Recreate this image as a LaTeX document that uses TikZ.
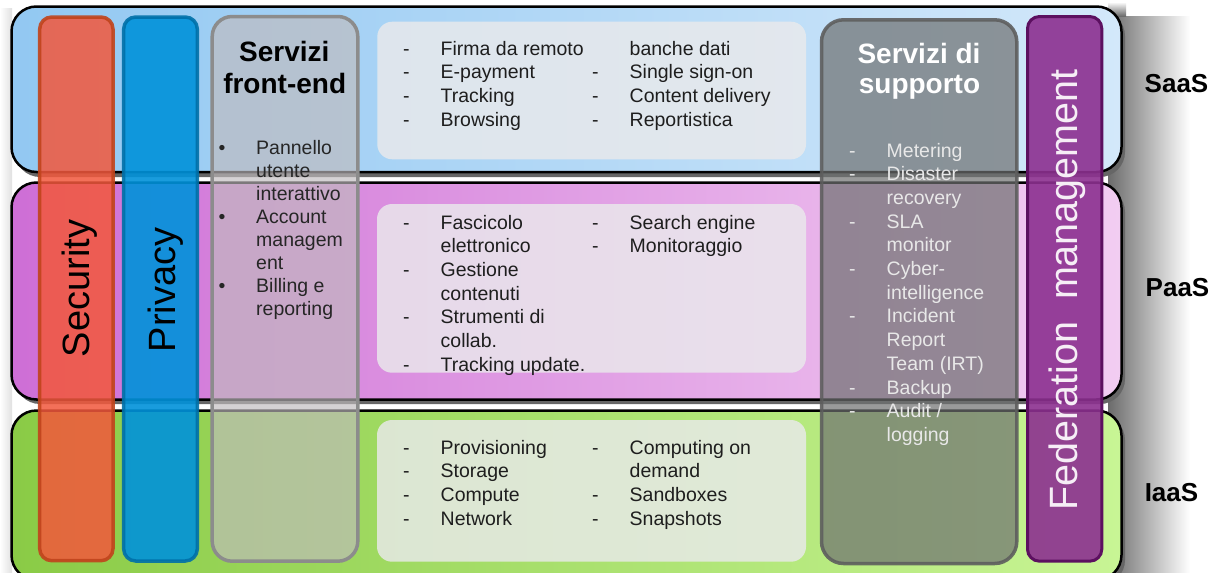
\documentclass[tikz,border=0pt]{standalone}
\usepackage{fontspec}
\setmainfont{Liberation Sans}
\usetikzlibrary{calc}
\definecolor{saasL}{HTML}{92C8F2}
\definecolor{saasR}{HTML}{D3E8FA}
\definecolor{paasL}{HTML}{CE6ED6}
\definecolor{paasR}{HTML}{F2CDF2}
\definecolor{iaasL}{HTML}{8ACB46}
\definecolor{iaasR}{HTML}{C8F595}
\definecolor{secF}{HTML}{F2583C}
\definecolor{secD}{HTML}{C0441C}
\definecolor{priF}{HTML}{0092DA}
\definecolor{priD}{HTML}{0070A8}
\definecolor{feF}{HTML}{C0BBBD}
\definecolor{feD}{HTML}{8C8C8C}
\definecolor{ctrF}{HTML}{EAEAEC}
\definecolor{supF}{HTML}{6E7070}
\definecolor{supD}{HTML}{5E5E5E}
\definecolor{fedF}{HTML}{8C3090}
\definecolor{fedD}{HTML}{5C1060}
\definecolor{txt}{HTML}{1E1E1E}
\definecolor{suptxt}{HTML}{E8E8E8}
\newcommand\dsh{\makebox[37.5pt][l]{-}}
\newcommand\nds{\hspace*{37.5pt}}
\newcommand\bul{\makebox[37.5pt][l]{\textbullet}}
\begin{document}
\begin{tikzpicture}[x=1pt,y=-1pt,
  band/.style={draw=black, line width=2.5pt, rectangle, rounded corners=25pt, inner sep=0pt, outer sep=0pt},
  bandshadow/.style={fill=black!60, rounded corners=25pt},
  col/.style={rectangle, inner sep=0pt, outer sep=0pt},
  ctr/.style={col, fill=ctrF, fill opacity=0.82, rounded corners=15pt},
  lst/.style={anchor=base west, inner sep=0pt, text=txt, font=\fontsize{19.5}{23.7}\selectfont},
  ttl/.style={anchor=base, inner sep=0pt, font=\fontsize{28}{28}\selectfont\bfseries},
  lbl/.style={anchor=base, inner sep=0pt, text=black, font=\fontsize{26}{26}\selectfont\bfseries},
  vert/.style={anchor=base, rotate=90, inner sep=0pt}]
\useasboundingbox (0,0) rectangle (1227,573);
\clip (0,0) rectangle (1227,573);
\fill[white] (0,0) rectangle (1227,573);
% soft shadows
\shade[left color=black!58, middle color=black!18, right color=white] (1108,16) rectangle (1190,573);
\shade[top color=white, bottom color=black!58] (1108,2) rectangle (1126,16);
\shade[left color=white, right color=black!12] (0,8) rectangle (12,573);
\fill[bandshadow] (15,11) rectangle (1125,177);
\fill[bandshadow] (15,187) rectangle (1125,404);
\fill[bandshadow] (15,415) rectangle (1125,585);
% bands
\node[band, left color=saasL, right color=saasR, minimum width=1110pt, minimum height=165.5pt] (saas) at (566.5,89.25) {};
\node[band, left color=paasL, right color=paasR, minimum width=1110pt, minimum height=217pt] (paas) at (566.5,291) {};
\node[band, left color=iaasL, right color=iaasR, minimum width=1110pt, minimum height=169.5pt] (iaas) at (566.5,495.25) {};
% vertical columns
\node[col, fill=secF, fill opacity=0.85, draw=secD, draw opacity=0.9, line width=3.5pt, rounded corners=12pt, minimum width=73.3pt, minimum height=543.7pt] (sec) at (76.35,288.85) {};
\node[col, fill=priF, fill opacity=0.9, draw=priD, draw opacity=0.9, line width=3.5pt, rounded corners=12pt, minimum width=73.6pt, minimum height=544pt] (pri) at (160.5,289) {};
\node[col, fill=feF, fill opacity=0.65, draw=feD, line width=3.5pt, rounded corners=20pt, minimum width=145.6pt, minimum height=544.7pt] (fe) at (285,288.85) {};
\node[col, fill=supF, fill opacity=0.7, draw=supD, draw opacity=0.9, line width=3.5pt, rounded corners=22pt, minimum width=195.3pt, minimum height=543.7pt] (sup) at (919.15,291.65) {};
\node[col, fill=fedF, fill opacity=0.9, draw=fedD, line width=3pt, rounded corners=12pt, minimum width=74.3pt, minimum height=544.7pt] (fed) at (1064.65,288.85) {};
% centre boxes
\node[ctr, minimum width=428.7pt, minimum height=137.6pt] (cs) at (591.65,90.5) {};
\node[ctr, minimum width=429pt, minimum height=168.7pt] (cp) at (591.5,288.35) {};
\node[ctr, minimum width=429pt, minimum height=141.7pt] (ci) at (591.5,490.85) {};
% rotated labels
\node[vert, text=black, font=\fontsize{38}{38}\selectfont] (sect) at (89.3,288.5) {Security};
\node[vert, text=black, font=\fontsize{38}{38}\selectfont] (prit) at (175,290) {Privacy};
\node[vert, text=white!92!fedF, font=\fontsize{39.5}{39.5}\selectfont] (fedt) at (1077,290) {Federation\ \ management};
% front-end column
\node[ttl, text=black] (fet1) at (284.3,61.7) {Servizi};
\node[ttl, text=black] (fet2) at (284.7,93.3) {front-end};
\node[lst, text=black!85, font=\fontsize{19.5}{23}\selectfont] (fel) at (218.5,154.3) {\begin{tabular}[t]{@{}l@{}}
\bul Pannello\\ \nds utente\\ \nds interattivo\\ \bul Account\\ \nds managem\\ \nds ent\\ \bul Billing e\\ \nds reporting\end{tabular}};
% SaaS lists
\node[lst] (s1) at (403,55) {\begin{tabular}[t]{@{}l@{}}
\dsh Firma da remoto\\ \dsh E-payment\\ \dsh Tracking\\ \dsh Browsing\end{tabular}};
\node[lst] (s2) at (592,55) {\begin{tabular}[t]{@{}l@{}}
\nds banche dati\\ \dsh Single sign-on\\ \dsh Content delivery\\ \dsh Reportistica\end{tabular}};
% PaaS lists
\node[lst] (p1) at (403,229) {\begin{tabular}[t]{@{}l@{}}
\dsh Fascicolo\\ \nds elettronico\\ \dsh Gestione\\ \nds contenuti\\ \dsh Strumenti di\\ \nds collab.\\ \dsh Tracking update.\end{tabular}};
\node[lst] (p2) at (592,229) {\begin{tabular}[t]{@{}l@{}}
\dsh Search engine\\ \dsh Monitoraggio\end{tabular}};
% IaaS lists
\node[lst] (i1) at (403,454) {\begin{tabular}[t]{@{}l@{}}
\dsh Provisioning\\ \dsh Storage\\ \dsh Compute\\ \dsh Network\end{tabular}};
\node[lst] (i2) at (592,454) {\begin{tabular}[t]{@{}l@{}}
\dsh Computing on\\ \nds demand\\ \dsh Sandboxes\\ \dsh Snapshots\end{tabular}};
% support column
\node[ttl, text=white] (supt1) at (919,63.3) {Servizi di};
\node[ttl, text=white] (supt2) at (919.5,93.3) {supporto};
\node[lst, text=suptxt] (supl) at (849,157) {\begin{tabular}[t]{@{}l@{}}
\dsh Metering\\ \dsh Disaster\\ \nds recovery\\ \dsh SLA\\ \nds monitor\\ \dsh Cyber-\\ \nds intelligence\\ \dsh Incident\\ \nds Report\\ \nds Team (IRT)\\ \dsh Backup\\ \dsh Audit /\\ \nds logging\end{tabular}};
% layer labels
\node[lbl] (lsaas) at (1176.5,92.3) {SaaS};
\node[lbl] (lpaas) at (1177.5,296.7) {PaaS};
\node[lbl] (liaas) at (1171.5,501.7) {IaaS};
\end{tikzpicture}
\end{document}
